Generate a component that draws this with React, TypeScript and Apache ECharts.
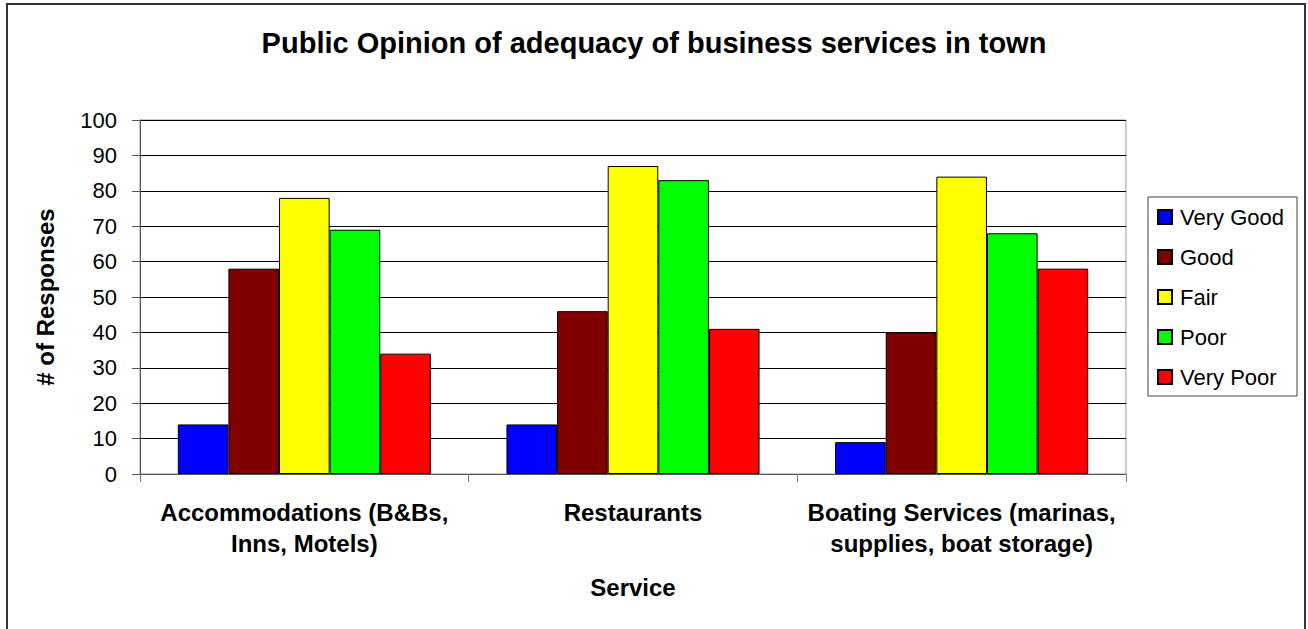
import React, { useEffect, useRef } from "react";
import * as echarts from "echarts";

const categories = [
  "Accommodations (B&Bs,\nInns, Motels)",
  "Restaurants",
  "Boating Services (marinas,\nsupplies, boat storage)",
];
const seriesNames = ["Very Good", "Good", "Fair", "Poor", "Very Poor"];
const seriesColors = ["#0000FF", "#800000", "#FFFF00", "#00FF00", "#FF0000"];
const veryGood = [14, 14, 9];
const good = [58, 46, 40];
const fair = [78, 87, 84];
const poor = [69, 83, 68];
const veryPoor = [34, 41, 58];
const seriesValues = [veryGood, good, fair, poor, veryPoor];
const yTicks = { min: 0, max: 100, interval: 10 };

const FONT = "'Liberation Sans', Arial, Helvetica, sans-serif";

export default function App() {
  const ref = useRef<HTMLDivElement>(null);
  useEffect(() => {
    document.body.style.margin = "0";
    const chart = echarts.init(ref.current!, null, { renderer: "svg" });
    chart.setOption({
      animation: false,
      backgroundColor: "#fff",
      title: {
        text: "Public Opinion of adequacy of business services in town",
        left: "center",
        top: 23,
        textStyle: { fontFamily: FONT, fontSize: 29, fontWeight: "bold", color: "#000" },
      },
      graphic: [
        {
          type: "rect",
          shape: { x: 7, y: 4, width: 1298, height: 700 },
          style: { fill: "none", stroke: "#333", lineWidth: 2 },
          silent: true,
          z: -1,
        },
        {
          type: "rect",
          shape: { x: 1148, y: 197, width: 149, height: 199 },
          style: { fill: "none", stroke: "#444", lineWidth: 1 },
          silent: true,
        },
      ],
      legend: {
        orient: "vertical",
        left: 1157,
        top: 205,
        padding: 0,
        itemWidth: 14,
        itemHeight: 14,
        itemGap: 16,
        icon: "rect",
        data: seriesNames,
        textStyle: { fontFamily: FONT, fontSize: 22, color: "#000", lineHeight: 24, padding: [0, 0, 0, 3] },
      },
      grid: {
        left: 140,
        top: 120,
        width: 986,
        height: 354,
        show: true,
        borderColor: "#999",
        borderWidth: 1,
        backgroundColor: "#fff",
      },
      xAxis: {
        type: "category",
        data: categories,
        name: "Service",
        nameLocation: "middle",
        nameGap: 101,
        nameTextStyle: { fontFamily: FONT, fontSize: 24, fontWeight: "bold", color: "#000" },
        axisLine: { show: true, lineStyle: { color: "#555", width: 1 } },
        axisTick: { show: true, length: 8, lineStyle: { color: "#777" } },
        axisLabel: {
          margin: 23,
          interval: 0,
          fontFamily: FONT,
          fontSize: 24,
          fontWeight: "bold",
          color: "#000",
          lineHeight: 31,
        },
      },
      yAxis: {
        type: "value",
        min: yTicks.min,
        max: yTicks.max,
        interval: yTicks.interval,
        name: "# of Responses",
        nameLocation: "middle",
        nameGap: 83,
        nameRotate: 90,
        nameTextStyle: { fontFamily: FONT, fontSize: 24, fontWeight: "bold", color: "#000" },
        axisLine: { show: true, lineStyle: { color: "#555", width: 1 } },
        axisTick: { show: true, length: 8, lineStyle: { color: "#555" } },
        axisLabel: { margin: 23, fontFamily: FONT, fontSize: 22, color: "#000" },
        splitLine: { show: true, lineStyle: { color: "#000", width: 1 } },
      },
      series: seriesNames.map((name, i) => ({
        name,
        type: "bar",
        data: seriesValues[i],
        barGap: "0%",
        barCategoryGap: "23%",
        itemStyle: { color: seriesColors[i], borderColor: "#000", borderWidth: 1 },
      })),
    });
    return () => chart.dispose();
  }, []);
  return <div ref={ref} style={{ width: 1308, height: 629 }} />;
}
